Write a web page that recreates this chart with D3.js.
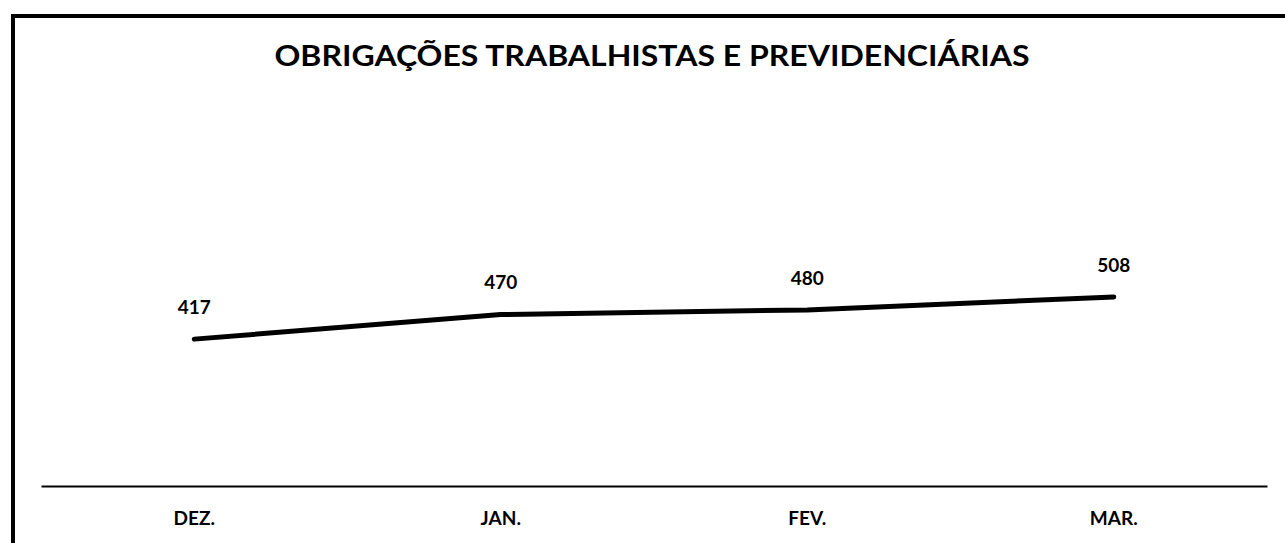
<!DOCTYPE html>
<html lang="pt">
<head>
  <meta charset="UTF-8">
  <title>Obrigações Trabalhistas e Previdenciárias</title>
  <script src="https://d3js.org/d3.v7.min.js"></script>
  <style>
    body, html {
      margin: 0;
      padding: 0;
      background: #fff;
      overflow: hidden;
    }
    svg {
      display: block;
      font-family: Lato, "Open Sans", sans-serif;
    }
    .label {
      font-weight: bold;
      fill: #000;
    }
  </style>
</head>
<body>
  <svg id="chart"></svg>

  <script>
    // chart data
    const title = "OBRIGAÇÕES TRABALHISTAS E PREVIDENCIÁRIAS";
    const months = ["DEZ.", "JAN.", "FEV.", "MAR."];
    const values = [417, 470, 480, 508];
    const yDomain = [100, 700];

    const width = 1285;
    const height = 543;

    const svg = d3.select("#chart")
      .attr("width", width)
      .attr("height", height);

    // frame (only top and left edges fall inside the window)
    svg.append("rect")
      .attr("x", 13)
      .attr("y", 16)
      .attr("width", width + 20)
      .attr("height", height + 20)
      .attr("fill", "none")
      .attr("stroke", "#000")
      .attr("stroke-width", 4);

    // title
    svg.append("text")
      .attr("class", "label")
      .attr("x", 652)
      .attr("y", 66)
      .attr("text-anchor", "middle")
      .attr("font-size", 28)
      .attr("font-weight", 900)
      .attr("textLength", 755)
      .attr("lengthAdjust", "spacingAndGlyphs")
      .text(title);

    const x = d3.scaleBand()
      .domain(months)
      .range([41, 1267]);

    const y = d3.scaleLinear()
      .domain(yDomain)
      .range([486, 208]);

    // category axis
    const xAxis = svg.append("g")
      .attr("transform", `translate(0,${y(yDomain[0])})`)
      .call(d3.axisBottom(x).tickSize(0).tickPadding(26));

    xAxis.select(".domain")
      .attr("stroke", "#000")
      .attr("stroke-width", 2);

    xAxis.selectAll("text")
      .attr("class", "label")
      .attr("font-size", 19)
      .attr("font-family", "Lato, sans-serif");

    // series line
    const line = d3.line()
      .x((d, i) => x(months[i]) + x.bandwidth() / 2)
      .y(d => y(d));

    svg.append("path")
      .datum(values)
      .attr("d", line)
      .attr("fill", "none")
      .attr("stroke", "#000")
      .attr("stroke-width", 5)
      .attr("stroke-linecap", "round")
      .attr("stroke-linejoin", "round");

    // data labels
    svg.selectAll(".value")
      .data(values)
      .enter()
      .append("text")
      .attr("class", "label value")
      .attr("x", (d, i) => x(months[i]) + x.bandwidth() / 2)
      .attr("y", d => y(d) - 32)
      .attr("dy", "0.35em")
      .attr("text-anchor", "middle")
      .attr("font-size", 19)
      .text(d => d);
  </script>
</body>
</html>
